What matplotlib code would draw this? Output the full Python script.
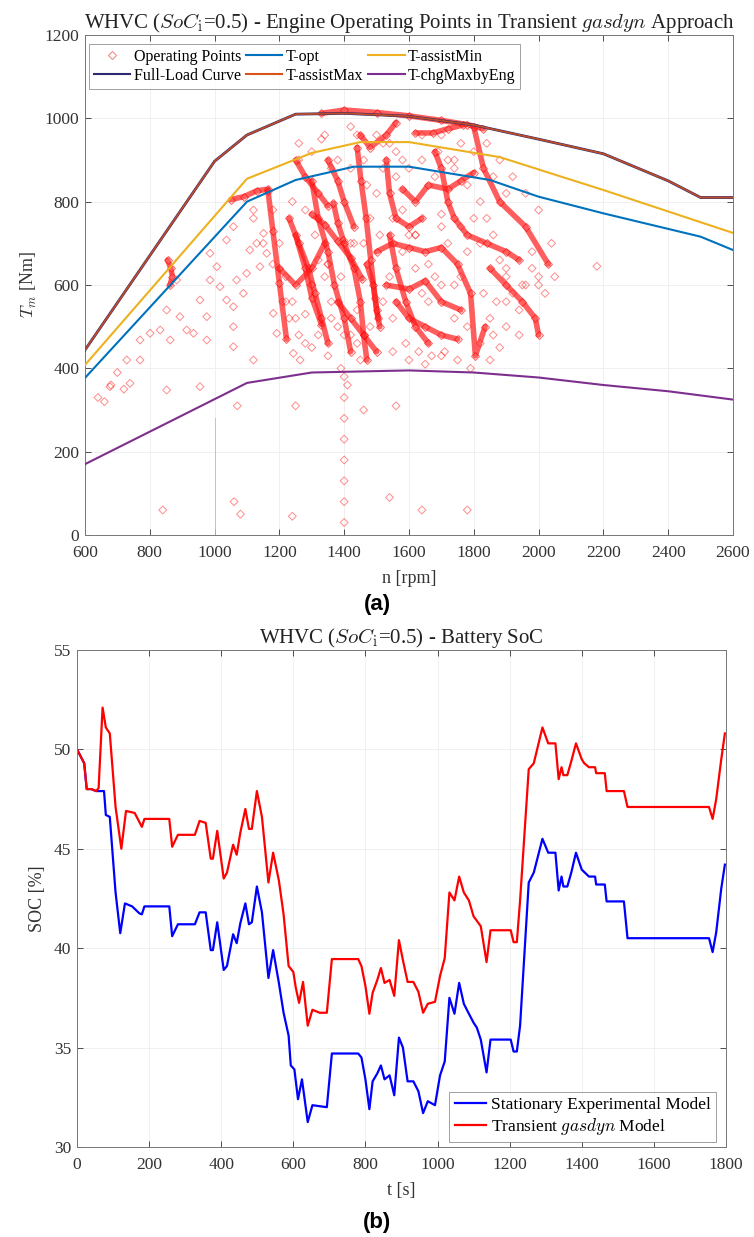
import numpy as np
import matplotlib
matplotlib.use('Agg')
import matplotlib.pyplot as plt
from matplotlib.lines import Line2D

plt.rcParams['font.family'] = ['Liberation Serif', 'DejaVu Serif']
plt.rcParams['mathtext.fontset'] = 'cm'

# ---- (a) engine map curves ----
rpm_fl = [600, 1000, 1100, 1250, 1400, 1600, 1800, 2000, 2200, 2400, 2500, 2600]
trq_fl = [444, 897, 960, 1010, 1012, 1005, 984, 950, 915, 850, 810, 810]
rpm_opt = [600, 1100, 1250, 1430, 1600, 1850, 2000, 2200, 2500, 2600]
trq_opt = [377, 800, 852, 884, 884, 852, 812, 772, 716, 684]
rpm_amin = [600, 1100, 1300, 1450, 1600, 1880, 2200, 2600]
trq_amin = [408, 855, 917, 943, 943, 907, 828, 725]
rpm_chg = [600, 1100, 1300, 1600, 1800, 2000, 2200, 2400, 2600]
trq_chg = [170, 365, 390, 395, 390, 378, 360, 345, 325]

# dense operating point traces (rpm, torque)
traces = [
    [(1330, 1012), (1400, 1020), (1500, 1014), (1600, 1006), (1700, 995), (1780, 985), (1830, 975)],
    [(1050, 805), (1090, 812), (1130, 826), (1165, 830)],
    [(1165, 825), (1180, 730), (1200, 605), (1222, 470)],
    [(1440, 930), (1452, 850), (1468, 760), (1482, 660), (1495, 570), (1505, 520)],
    [(1470, 650), (1490, 600), (1500, 540), (1510, 500)],
    [(1300, 770), (1340, 745), (1380, 705), (1420, 665), (1455, 615)],
    [(1250, 720), (1280, 640), (1300, 570), (1330, 505)],
    [(1500, 680), (1550, 700), (1600, 690), (1650, 680), (1700, 690), (1750, 650), (1790, 580), (1805, 430), (1835, 500)],
    [(1580, 830), (1620, 800), (1660, 840), (1720, 830), (1760, 850), (1800, 870)],
    [(1800, 980), (1830, 880), (1880, 800), (1960, 740), (2030, 650)],
    [(1530, 600), (1600, 590), (1650, 610), (1700, 560), (1760, 540)],
    [(1367, 796), (1380, 750), (1397, 708)],
    [(1620, 965), (1674, 965), (1720, 975), (1767, 984)],
    [(855, 660), (865, 640), (870, 620), (862, 600)],
    [(1540, 720), (1560, 640), (1590, 560), (1620, 500), (1660, 460)],
    [(1380, 560), (1420, 520), (1460, 480), (1500, 440)],
    [(1250, 900), (1280, 860), (1320, 820), (1350, 790)],
    [(1230, 760), (1260, 700), (1290, 640), (1310, 580), (1330, 520), (1350, 460)],
    [(1300, 850), (1320, 760), (1350, 680), (1370, 600), (1400, 520), (1420, 440)],
    [(1350, 900), (1380, 850), (1400, 800), (1430, 740)],
    [(1200, 640), (1250, 600), (1300, 640), (1340, 700)],
    [(1400, 700), (1430, 640), (1450, 560), (1460, 480), (1470, 420)],
    [(1530, 900), (1540, 820), (1560, 760), (1600, 740), (1640, 760)],
    [(1560, 560), (1600, 520), (1650, 500), (1700, 480), (1750, 470)],
    [(1680, 920), (1700, 880), (1720, 800), (1740, 760), (1780, 720), (1840, 700), (1900, 680), (1940, 660)],
    [(1850, 640), (1900, 600), (1950, 560), (1990, 520), (2000, 480)],
    [(1450, 960), (1480, 930), (1530, 960), (1560, 990)],
]

# scattered operating points
pts_rpm = [770, 801, 832, 863, 893, 852, 914, 935, 955, 976, 976, 1017, 1007, 1037, 1058,
           1058, 1068, 1089, 1099, 1109, 1130, 1151, 1058, 1120, 770, 677, 739, 852, 955, 883,
           986, 986, 1037, 1058, 1120, 1140, 1161, 1181, 1192, 1243, 1264, 729, 640, 680, 700,
           660, 720, 840, 1060, 1080, 1240, 1540, 1640, 1780, 1400, 1400, 1400, 1400, 1400, 1400,
           1400, 1400, 1390, 1410, 1460, 1070, 1250, 1560, 2180, 1900, 1950, 2000, 2040, 1880,
           1850, 1700, 1650, 1600, 1550, 1450, 1350, 1300, 1250, 1220, 1300, 1350, 1420, 1550,
           1620, 1700, 1760, 1820, 1900, 1980, 1260, 1330, 1360, 1440, 1520, 1580, 1690, 1740,
           1120, 1150, 1180, 1210, 1230, 1260, 1280, 1300, 1320, 1340, 1360, 1380, 1420, 1440,
           1460, 1480, 1500, 1520, 1540, 1560, 1580, 1600, 1620, 1640, 1660, 1680, 1700, 1720,
           1740, 1760, 1780, 1800, 1820, 1840, 1860, 1880, 1900, 1920, 1940, 1960, 1980, 2000,
           2020, 2050, 1870, 1850, 1830, 1780, 1740, 1700, 1660, 1620, 1580, 1540, 1520, 1480,
           1440, 1400, 1360, 1320, 1280, 1240, 1220, 1200, 1180, 1240, 1280, 1310, 1350, 1390,
           1430, 1470, 1510, 1550, 1590, 1630, 1670, 1710, 1750, 1790, 1820, 1860, 1900, 1940,
           1380, 1420, 1460, 1500, 1560, 1600, 1640, 1680, 1720, 1760, 1800, 1840, 1880, 1920,
           1960, 2000, 1300, 1340, 1260, 1420, 1640, 1700, 1740, 1780, 1860, 1900]
pts_trq = [420, 484, 492, 468, 524, 540, 492, 484, 564, 524, 468, 596, 644, 564, 548,
           500, 612, 580, 628, 684, 700, 724, 452, 420, 468, 356, 364, 348, 356, 612,
           612, 676, 708, 740, 780, 644, 676, 532, 484, 436, 420, 420, 330, 360, 390,
           320, 350, 60, 80, 50, 45, 90, 60, 60, 30, 80, 130, 180, 230, 280,
           330, 380, 400, 360, 300, 310, 310, 310, 645, 560, 600, 620, 700, 450,
           420, 430, 410, 420, 440, 420, 430, 450, 520, 560, 600, 650, 700, 760,
           720, 770, 740, 700, 640, 680, 900, 950, 880, 960, 940, 900, 920, 900,
           760, 700, 650, 560, 520, 480, 530, 600, 660, 620, 560, 500, 480, 540,
           700, 760, 820, 880, 940, 860, 780, 720, 640, 580, 560, 620, 740, 700,
           600, 620, 680, 760, 800, 760, 720, 660, 620, 580, 540, 600, 640, 600,
           580, 620, 560, 520, 580, 500, 520, 600, 650, 720, 680, 620, 560, 500,
           460, 480, 520, 480, 460, 560, 620, 700, 780, 800, 780, 720, 650, 620,
           700, 840, 720, 520, 460, 440, 430, 440, 420, 400, 460, 480, 500, 480,
           900, 880, 900, 960, 920, 880, 900, 860, 900, 940, 920, 940, 900, 860,
           820, 780, 920, 960, 940, 980, 960, 960, 880, 840, 860, 820]

# faint vertical trace at idle-ish speed (reference shows a thin column)
rpm_col = [1000, 1000]
trq_col = [0, 280]

# ---- (b) battery SoC ----
t_tr = [0, 20, 27, 40, 53, 60, 71, 80, 91, 107, 123, 136, 160, 180, 187, 256, 264, 280, 327, 340,
        357, 371, 377, 389, 407, 416, 433, 443, 453, 467, 477, 485, 499, 513, 531, 544, 560, 573,
        587, 600, 607, 616, 627, 640, 653, 673, 693, 707, 780, 789, 800, 811, 820, 833, 843, 853,
        867, 880, 893, 904, 917, 933, 947, 960, 973, 993, 1007, 1020, 1033, 1047, 1060, 1073, 1087,
        1100, 1120, 1136, 1147, 1203, 1211, 1220, 1229, 1253, 1267, 1291, 1307, 1327, 1336, 1344,
        1349, 1360, 1371, 1384, 1400, 1407, 1420, 1437, 1440, 1464, 1469, 1517, 1527, 1753, 1763,
        1773, 1787, 1797]
soc_tr = [50.0, 49.3, 48.0, 48.0, 47.9, 48.05, 52.1, 51.1, 50.8, 47.1, 45.0, 46.9, 46.8, 46.1, 46.5,
          46.5, 45.1, 45.7, 45.7, 46.4, 46.3, 44.5, 44.5, 45.9, 43.5, 43.8, 45.2, 44.7, 45.8, 47.0,
          46.0, 46.0, 47.9, 46.6, 43.3, 44.8, 43.4, 41.7, 39.1, 38.8, 38.0, 37.25, 38.3, 36.1, 36.9,
          36.75, 36.75, 39.45, 39.45, 39.1, 38.1, 36.7, 37.75, 38.4, 39.0, 38.25, 38.4, 37.6, 40.4,
          39.4, 38.3, 38.3, 37.8, 36.75, 37.2, 37.3, 38.6, 39.5, 42.8, 42.4, 43.6, 42.8, 42.4, 41.6,
          41.1, 39.3, 40.9, 40.9, 40.3, 40.3, 42.4, 49.0, 49.3, 51.1, 50.3, 50.3, 48.5, 49.1, 48.7,
          48.7, 49.4, 50.3, 49.5, 49.3, 49.1, 49.1, 48.8, 48.8, 47.9, 47.9, 47.1, 47.1, 46.5, 47.5,
          49.5, 50.8]

t_st = [0, 20, 27, 40, 53, 75, 80, 91, 107, 120, 133, 153, 173, 180, 187, 256, 264, 280, 327, 340,
        357, 371, 377, 389, 407, 416, 433, 443, 453, 467, 477, 485, 499, 513, 531, 544, 560, 573,
        587, 593, 603, 613, 624, 640, 653, 693, 707, 780, 789, 800, 811, 820, 833, 843, 853, 867,
        880, 893, 904, 917, 933, 947, 960, 973, 993, 1007, 1020, 1033, 1047, 1060, 1073, 1087,
        1100, 1109, 1120, 1136, 1147, 1203, 1211, 1220, 1229, 1253, 1267, 1291, 1307, 1327, 1336,
        1344, 1349, 1360, 1371, 1384, 1400, 1420, 1437, 1440, 1464, 1469, 1517, 1527, 1753, 1763,
        1773, 1787, 1797]
soc_st = [50.0, 49.3, 48.0, 48.0, 47.9, 47.9, 46.7, 46.6, 42.8, 40.75, 42.25, 42.1, 41.75, 41.7, 42.1,
          42.1, 40.6, 41.2, 41.2, 41.8, 41.8, 39.9, 39.9, 41.3, 38.9, 39.1, 40.7, 40.25, 41.25, 42.25,
          41.2, 41.3, 43.1, 41.8, 38.5, 39.9, 38.25, 36.75, 35.6, 34.1, 33.9, 32.4, 33.4, 31.25, 32.1,
          32.0, 34.7, 34.7, 34.5, 33.4, 31.9, 33.3, 33.7, 34.1, 33.4, 33.6, 32.6, 35.5, 35.0, 33.3,
          33.3, 32.8, 31.7, 32.3, 32.1, 33.6, 34.3, 37.5, 36.7, 38.25, 37.2, 36.7, 36.25, 36.0, 35.4,
          33.75, 35.4, 35.4, 34.8, 34.8, 36.1, 43.3, 43.8, 45.5, 44.8, 44.8, 42.9, 43.6, 43.1, 43.1,
          43.8, 44.8, 43.95, 43.6, 43.6, 43.2, 43.2, 42.35, 42.35, 40.5, 40.5, 39.8, 40.8, 43.0, 44.2]

BLUE = '#0072BD'
ORANGE = '#D95319'
YELLOW = '#EDB120'
PURPLE = '#7E2F8E'
NAVY = '#2B2A72'


def style_axes(ax):
    ax.tick_params(direction='in', top=True, right=True, labelsize=12.5, colors='#333333',
                   length=4, width=0.6)
    ax.tick_params(axis='x', pad=7.5)
    ax.tick_params(axis='y', pad=4)
    for s in ax.spines.values():
        s.set_color('#777777')
        s.set_linewidth(0.7)
    ax.grid(True, color='#EEEEEE', linewidth=0.6)
    ax.set_axisbelow(True)


fig = plt.figure(figsize=(7.54, 12.37), dpi=100)

# ---- panel (a) ----
ax1 = fig.add_axes([0.1127, 0.5675, 0.8594, 0.4042])
style_axes(ax1)

ax1.plot(rpm_col, trq_col, color='#BBBBBB', lw=0.6, zorder=1)
ax1.scatter(pts_rpm, pts_trq, marker='D', s=16, facecolors='none', edgecolors='#FF0000',
            linewidths=0.7, alpha=0.45, zorder=2)
for tr in traces:
    xs = [p[0] for p in tr]
    ys = [p[1] for p in tr]
    ax1.plot(xs, ys, color='#FF1A1A', lw=4, alpha=0.7, solid_capstyle='round',
             solid_joinstyle='round', zorder=2)
    ax1.plot(xs, ys, 'D', ms=4, mfc='none', mec='#FF0000', mew=0.7, alpha=0.6, zorder=2)

ax1.plot(rpm_fl, trq_fl, color=NAVY, lw=2.0, zorder=3)
ax1.plot(rpm_opt, trq_opt, color=BLUE, lw=1.5, zorder=3)
ax1.plot(rpm_fl, trq_fl, color=ORANGE, lw=1.3, alpha=0.85, zorder=3)
ax1.plot(rpm_amin, trq_amin, color=YELLOW, lw=1.5, zorder=3)
ax1.plot(rpm_chg, trq_chg, color=PURPLE, lw=1.5, zorder=3)

ax1.set_xlim(600, 2600)
ax1.set_ylim(0, 1200)
ax1.set_xticks(np.arange(600, 2601, 200))
ax1.set_yticks(np.arange(0, 1201, 200))
ax1.set_xlabel('n [rpm]', fontsize=13, color='#333333', labelpad=6)
ax1.set_ylabel(r'$T_m$ [Nm]', fontsize=13, color='#333333', labelpad=4)
ax1.set_title(r'WHVC ($SoC_{\rm i}$=0.5) - Engine Operating Points in Transient $gasdyn$ Approach',
              fontsize=15, color='#222222', pad=5)

handles = [
    Line2D([], [], ls='none', marker='D', ms=4, mfc='none', mec='#F08080', mew=0.7),
    Line2D([], [], color=NAVY, lw=1.5),
    Line2D([], [], color=BLUE, lw=1.5),
    Line2D([], [], color=ORANGE, lw=1.5),
    Line2D([], [], color=YELLOW, lw=1.5),
    Line2D([], [], color=PURPLE, lw=1.5),
]
labels = ['Operating Points', 'Full-Load Curve', 'T-opt', 'T-assistMax', 'T-assistMin', 'T-chgMaxbyEng']
leg1 = ax1.legend(handles, labels, ncol=3, loc='upper left', bbox_to_anchor=(0.006, 0.982),
                  fontsize=11.5, frameon=True, fancybox=False, edgecolor='#888888',
                  handlelength=2.3, handletextpad=0.2, columnspacing=0.3, labelspacing=0.2,
                  borderpad=0.3, borderaxespad=0.0)
leg1.get_frame().set_linewidth(0.7)

# ---- panel (b) ----
ax2 = fig.add_axes([0.1021, 0.0728, 0.8607, 0.4018])
style_axes(ax2)
ax2.plot(t_st, soc_st, color='#0000FF', lw=1.6, label='Stationary Experimental Model')
ax2.plot(t_tr, soc_tr, color='#FF0000', lw=1.6, label=r'Transient $gasdyn$ Model')
ax2.set_xlim(0, 1800)
ax2.set_ylim(30, 55)
ax2.set_xticks(np.arange(0, 1801, 200))
ax2.set_yticks(np.arange(30, 56, 5))
ax2.set_xlabel('t [s]', fontsize=13, color='#333333', labelpad=6)
ax2.set_ylabel('SOC [%]', fontsize=13, color='#333333', labelpad=6)
ax2.set_title(r'WHVC ($SoC_{\rm i}$=0.5) - Battery SoC', fontsize=15, color='#222222', pad=5)
leg2 = ax2.legend(loc='lower right', bbox_to_anchor=(0.985, 0.01), fontsize=12.5, frameon=True,
                  fancybox=False, edgecolor='#888888', handlelength=1.8, handletextpad=0.3,
                  labelspacing=0.15, borderpad=0.3, borderaxespad=0.0)
leg2.get_frame().set_linewidth(0.7)

fig.text(0.5, 0.511, '(a)', ha='center', va='center', fontsize=16, fontweight='bold',
         family=['Liberation Sans', 'DejaVu Sans'])
fig.text(0.5, 0.012, '(b)', ha='center', va='center', fontsize=16, fontweight='bold',
         family=['Liberation Sans', 'DejaVu Sans'])

fig.savefig('out.png', dpi=100, facecolor='white')
